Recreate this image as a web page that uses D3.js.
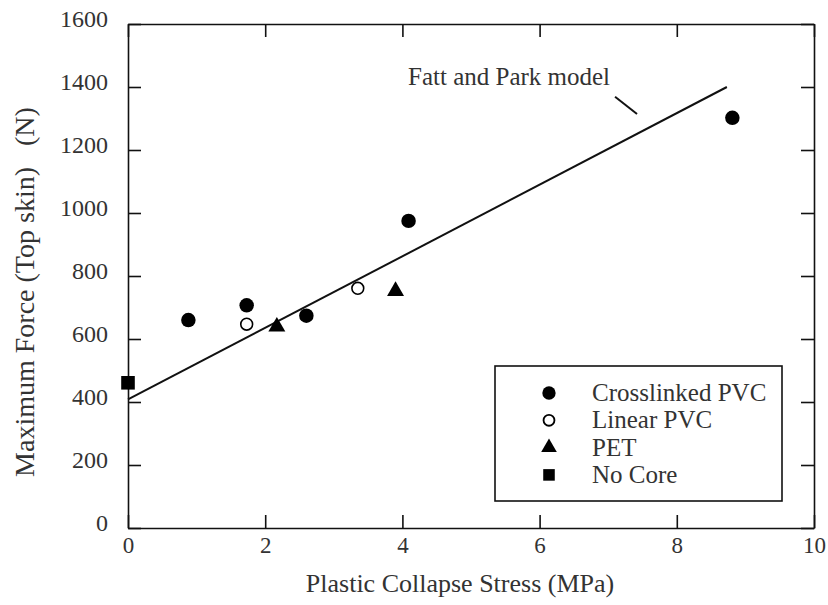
<!DOCTYPE html>
<html>
<head>
<meta charset="utf-8">
<script src="https://cdn.jsdelivr.net/npm/d3@7"></script>
<style>
  body { margin: 0; background: #fff; }
  text { font-family: "Liberation Serif", "Times New Roman", serif; fill: #333; }
</style>
</head>
<body>
<script>
const width = 828;
const height = 605;
const margin = {top: 24, right: 14, bottom: 77, left: 128};

// data: x = plastic collapse stress (MPa), y = max force (N)
const crosslinkedPVC = [[0.88, 660], [1.73, 707], [2.6, 674], [4.09, 975], [8.81, 1302]];
const linearPVC = [[1.73, 647], [3.35, 761]];
const pet = [[2.17, 639], [3.9, 752]];
const noCore = [[0.0, 461]];
const modelLine = [[0, 408], [8.73, 1400]];
const modelPointer = [[7.1, 1369], [7.42, 1314]];

const xTicks = [0, 2, 4, 6, 8, 10];
const yTicks = [0, 200, 400, 600, 800, 1000, 1200, 1400, 1600];
const legendLabels = ['Crosslinked PVC', 'Linear PVC', 'PET', 'No Core'];

const x = d3.scaleLinear().domain([0, 10]).range([margin.left, width - margin.right]);
const y = d3.scaleLinear().domain([0, 1600]).range([height - margin.bottom, margin.top]);

const svg = d3.select('body').append('svg')
  .attr('width', width)
  .attr('height', height);

const tickLen = 13;
const fmt = d3.format('d');

// axes (ticks inward, mirrored on top/right)
svg.append('g')
  .attr('transform', `translate(0,${y(0)})`)
  .call(d3.axisBottom(x).tickValues(xTicks).tickFormat(fmt).tickSize(-tickLen).tickPadding(9).tickSizeOuter(0))
  .call(g => g.selectAll('text').attr('font-size', 23));
svg.append('g')
  .attr('transform', `translate(0,${y(1600)})`)
  .call(d3.axisTop(x).tickValues(xTicks).tickSize(-tickLen).tickFormat('').tickSizeOuter(0));
svg.append('g')
  .attr('transform', `translate(${x(0)},0)`)
  .call(d3.axisLeft(y).tickValues(yTicks).tickFormat(fmt).tickSize(-tickLen).tickPadding(20).tickSizeOuter(0))
  .call(g => g.selectAll('text').attr('font-size', 24).attr('dy', '0.1em'));
svg.append('g')
  .attr('transform', `translate(${x(10)},0)`)
  .call(d3.axisRight(y).tickValues(yTicks).tickSize(-tickLen).tickFormat('').tickSizeOuter(0));

svg.selectAll('.domain').attr('stroke', '#111').attr('stroke-width', 1.6);
svg.selectAll('.tick line').attr('stroke', '#111').attr('stroke-width', 1.6);
svg.selectAll('.tick text').attr('fill', '#333').attr('font-family', '"Liberation Serif", serif');

// axis titles
svg.append('text')
  .attr('x', 460).attr('y', 592)
  .attr('text-anchor', 'middle')
  .attr('font-size', 26)
  .text('Plastic Collapse Stress (MPa)');
svg.append('text')
  .attr('transform', 'translate(34,292) rotate(-90)')
  .attr('text-anchor', 'middle')
  .attr('font-size', 28)
  .style('white-space', 'pre')
  .text('Maximum Force (Top skin)   (N)');

// model line + annotation
const line = d3.line().x(d => x(d[0])).y(d => y(d[1]));
svg.append('path').datum(modelLine).attr('d', line)
  .attr('fill', 'none').attr('stroke', '#111').attr('stroke-width', 2);
svg.append('path').datum(modelPointer).attr('d', line)
  .attr('fill', 'none').attr('stroke', '#111').attr('stroke-width', 2);
svg.append('text')
  .attr('x', 408).attr('y', 85)
  .attr('font-size', 25)
  .text('Fatt and Park model');

// markers
const sym = {
  circle: d3.symbol().type(d3.symbolCircle).size(165),
  open: d3.symbol().type(d3.symbolCircle).size(110),
  tri: d3.symbol().type(d3.symbolTriangle).size(125),
  square: d3.symbol().type(d3.symbolSquare).size(185)
};
const styles = [
  {data: crosslinkedPVC, path: sym.circle(), fill: '#000', stroke: 'none'},
  {data: linearPVC, path: sym.open(), fill: '#fff', stroke: '#000'},
  {data: pet, path: sym.tri(), fill: '#000', stroke: 'none'},
  {data: noCore, path: sym.square(), fill: '#000', stroke: 'none'}
];
styles.forEach(s => {
  svg.append('g').selectAll('path')
    .data(s.data)
    .join('path')
    .attr('d', s.path)
    .attr('transform', d => `translate(${x(d[0])},${y(d[1])})`)
    .attr('fill', s.fill)
    .attr('stroke', s.stroke)
    .attr('stroke-width', 1.6);
});

// legend
const legend = svg.append('g');
legend.append('rect')
  .attr('x', 495).attr('y', 366).attr('width', 287).attr('height', 135)
  .attr('fill', '#fff').attr('stroke', '#111').attr('stroke-width', 1.6);
legendLabels.forEach((lab, i) => {
  const cy = 393 + i * 27.3;
  const s = styles[i];
  const sizeScale = i === 3 ? 0.85 : 0.92;
  legend.append('path')
    .attr('d', s.path)
    .attr('transform', `translate(549,${cy}) scale(${sizeScale})`)
    .attr('fill', s.fill).attr('stroke', s.stroke).attr('stroke-width', 2);
  legend.append('text')
    .attr('x', 592).attr('y', cy + 8)
    .attr('font-size', 25)
    .text(lab);
});
</script>
</body>
</html>
